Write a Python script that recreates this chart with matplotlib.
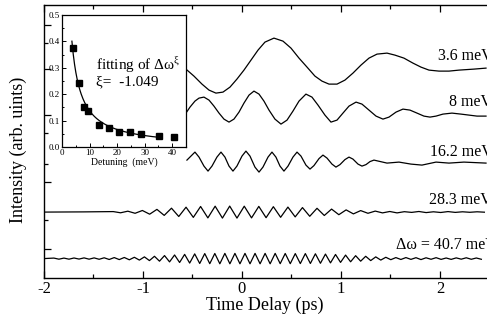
import numpy as np
import matplotlib
matplotlib.use('Agg')
import matplotlib.pyplot as plt
from matplotlib.ticker import MultipleLocator, FixedLocator

plt.rcParams['font.family'] = ['Liberation Serif', 'DejaVu Serif']
plt.rcParams['mathtext.fontset'] = 'custom'
plt.rcParams['mathtext.rm'] = 'Liberation Serif'
plt.rcParams['axes.unicode_minus'] = False

# ---- main panel: beat traces, time in ps, intensity in arb. units ----
t_36 = [-0.566, -0.485, -0.404, -0.333, -0.263, -0.192, -0.121, -0.051, 0.020,
        0.091, 0.162, 0.232, 0.323, 0.414, 0.495, 0.576, 0.657, 0.737, 0.808,
        0.879, 0.960, 1.040, 1.121, 1.202, 1.283, 1.364, 1.465, 1.545, 1.636,
        1.727, 1.808, 1.889, 1.990, 2.091, 2.192, 2.343, 2.465]
i_36 = [209, 202, 194, 188, 185, 186, 191, 199, 208, 218, 228, 236, 240, 237,
        230, 220, 211, 202, 197, 194, 194, 198, 205, 213, 220, 224, 225, 223,
        220, 215, 211, 208, 207, 207, 208, 209, 210]

t_8 = [-0.566, -0.525, -0.475, -0.434, -0.384, -0.333, -0.283, -0.232, -0.182,
       -0.131, -0.081, -0.030, 0.020, 0.071, 0.121, 0.172, 0.222, 0.273, 0.333,
       0.394, 0.455, 0.515, 0.576, 0.646, 0.707, 0.768, 0.838, 0.899, 0.960,
       1.020, 1.081, 1.152, 1.212, 1.283, 1.354, 1.424, 1.485, 1.556, 1.626,
       1.697, 1.768, 1.838, 1.899, 1.960, 2.030, 2.121, 2.212, 2.293, 2.374, 2.465]
i_8 = [165, 171, 177, 180, 181, 178, 172, 165, 159, 156, 159, 166, 175, 183,
       187, 184, 177, 168, 159, 154, 158, 167, 177, 184, 181, 173, 163, 156,
       158, 165, 172, 176, 174, 168, 162, 159, 161, 166, 169, 168, 165, 162,
       161, 162, 164, 165, 164, 163, 162, 162]

t_162 = [-0.556, -0.475, -0.434, -0.384, -0.343, -0.303, -0.253, -0.212, -0.172,
         -0.131, -0.091, -0.051, 0.0, 0.040, 0.081, 0.131, 0.172, 0.212, 0.263,
         0.303, 0.343, 0.384, 0.424, 0.465, 0.515, 0.556, 0.596, 0.646, 0.687,
         0.727, 0.778, 0.818, 0.859, 0.909, 0.949, 0.990, 1.040, 1.081, 1.121,
         1.172, 1.212, 1.253, 1.293, 1.333, 1.465, 1.586, 1.707, 1.818, 1.960,
         2.091, 2.242, 2.465]
i_162 = [118, 126, 121, 112, 107, 112, 121, 126, 121, 112, 107, 112, 122, 127,
         122, 111, 106, 111, 121, 126, 121, 112, 107, 112, 121, 126, 122, 113,
         109, 112.5, 119.5, 123, 120, 114, 111, 113.5, 118.5, 121, 119, 114, 112,
         113.5, 116.5, 118, 115, 116, 114, 113, 116, 115, 116, 115]

# 28.3 meV: flat lead-in, then successive extrema (half period ~0.0735 ps)
base_283 = 66
t_283_start = -1.30
dt_283 = 0.0735
d_283 = [0.5, -0.7, 0.9, -1.2, 1.6, -2.1, 2.7, -3.3, 3.9, -4.4, 4.9, -5.3, 5.6,
         -5.8, 5.9, -6.0, 6.0, -6.0, 5.9, -5.8, 5.7, -5.6, 5.4, -5.2, 5.0, -4.8,
         4.5, -4.2, 3.8, -3.4, 3.0, -2.6, 2.2, -1.8, 1.5, -1.2, 1.0, -0.8, 0.6,
         -0.8, 0.4, -0.3, 0.6, -0.5, 0.3, -0.4, 0.5, -0.3, 0.3, -0.2, 0.3, -0.1]

# 40.7 meV: successive extrema (half period ~0.0508 ps)
base_407 = 19.5
t_407_start = -1.90
dt_407 = 0.0508
a_407 = [0.5, 0.6, 0.5, 0.6, 0.6, 0.5, 0.7, 0.6, 0.7, 0.7,
         0.8, 0.9, 1.0, 1.0, 1.1, 1.2, 1.3, 1.5, 1.7, 2.0,
         2.3, 2.6, 3.0, 3.3, 3.6, 3.9, 4.2, 4.5, 4.7, 4.9,
         5.0, 5.1, 5.1, 5.2, 5.2, 5.2, 5.2, 5.2, 5.2, 5.2,
         5.2, 5.2, 5.2, 5.2, 5.2, 5.1, 5.1, 5.1, 5.0, 5.0,
         5.0, 4.9, 4.8, 4.7, 4.5, 4.3, 4.1, 3.8, 3.5, 3.2,
         2.9, 2.6, 2.3, 2.0, 1.7, 1.5, 1.3, 1.1, 1.0, 0.9,
         1.0, 0.8, 0.9, 1.0, 0.8, 0.7, 0.9, 0.8, 0.6, 0.8,
         0.7, 0.6, 0.8, 0.7, 0.6, 0.7]

labels = ['3.6 meV', '8 meV', '16.2 meV', '28.3 meV', '\u0394\u03c9 = 40.7 meV']
label_t = [1.98, 2.09, 1.90, 1.89, 1.556]
label_i = [222, 176, 126, 78, 33]

# ---- inset: beat amplitude vs detuning ----
detuning = [4.0, 6.0, 8.0, 9.5, 13.3, 17.0, 20.7, 24.5, 28.5, 35.2, 40.7]
amplitude = [0.376, 0.241, 0.150, 0.136, 0.083, 0.071, 0.056, 0.056, 0.048, 0.042, 0.039]
xi = -1.049

fig = plt.figure(figsize=(4.87, 3.2), dpi=100)
ax = fig.add_axes([0.0903, 0.131, 0.9097, 0.853])

ax.plot(t_36, i_36, color='black', lw=0.9)
ax.plot(t_8, i_8, color='black', lw=0.9)
ax.plot(t_162, i_162, color='black', lw=0.9)

t283 = np.concatenate([[-2.0, -1.6], t_283_start + dt_283 * np.arange(len(d_283))])
v283 = base_283 + np.concatenate([[0.0, 0.2], d_283])
ax.plot(t283, v283, color='black', lw=0.9)

sgn = np.where(np.arange(len(a_407)) % 2 == 0, 1.0, -1.0)
t407 = np.concatenate([[-2.0], t_407_start + dt_407 * np.arange(len(a_407))])
v407 = base_407 + np.concatenate([[0.0], sgn * np.array(a_407)])
ax.plot(t407, v407, color='black', lw=0.9)

for lab, x, y in zip(labels, label_t, label_i):
    ax.text(x, y, lab, fontsize=11.5, ha='left', va='center', clip_on=False)

ax.set_xlim(-2.0, 2.475)
ax.set_ylim(0, 273)
ax.xaxis.set_major_locator(MultipleLocator(1))
ax.xaxis.set_minor_locator(MultipleLocator(0.5))
ax.yaxis.set_major_locator(FixedLocator([29, 96, 163, 209, 253]))
ax.yaxis.set_minor_locator(FixedLocator([58, 114, 145, 235]))
ax.set_yticklabels([])
ax.tick_params(which='both', direction='in', top=True, right=False,
               labelsize=12, pad=2, width=0.9)
ax.tick_params(which='major', length=5)
ax.tick_params(which='minor', length=3)
ax.spines['right'].set_visible(False)
for s in ['left', 'bottom', 'top']:
    ax.spines[s].set_linewidth(1.0)

fig.text(265 / 487, 1 - 305 / 320, 'Time Delay (ps)', fontsize=13,
         ha='center', va='center')
fig.text(18 / 487, 1 - 150 / 320, 'Intensity (arb. uints)', fontsize=13,
         ha='center', va='center', rotation=90)

# inset
ins = fig.add_axes([0.1273, 0.5406, 0.2546, 0.4125])
ins.plot(detuning, amplitude, 's', color='black', ms=4)
# fixed-exponent fit, amplitude from least squares
xd = np.array(detuning)
yd = np.array(amplitude)
A = np.sum(yd * xd ** xi) / np.sum(xd ** (2 * xi))
xf = np.linspace(3.6, 35.4, 200)
ins.plot(xf, A * xf ** xi, color='black', lw=0.9)
ins.set_xlim(0, 45)
ins.set_ylim(0, 0.5)
ins.xaxis.set_major_locator(MultipleLocator(10))
ins.xaxis.set_minor_locator(MultipleLocator(5))
ins.yaxis.set_major_locator(MultipleLocator(0.1))
ins.yaxis.set_minor_locator(MultipleLocator(0.05))
ins.tick_params(which='both', direction='in', labelsize=6.5, pad=1.5, width=0.7)
ins.tick_params(which='major', length=3)
ins.tick_params(which='minor', length=1.5)
ins.set_xlabel('Detuning  (meV)', fontsize=7, labelpad=0)
for s in ins.spines.values():
    s.set_linewidth(0.9)
ins.text(12.5, 0.31, 'fitting of \u0394\u03c9$^{\\mathrm{\u03be}}$', fontsize=11, va='center')
ins.text(12.5, 0.245, '\u03be=  -1.049', fontsize=11, va='center')

fig.savefig('out.png', dpi=100)
